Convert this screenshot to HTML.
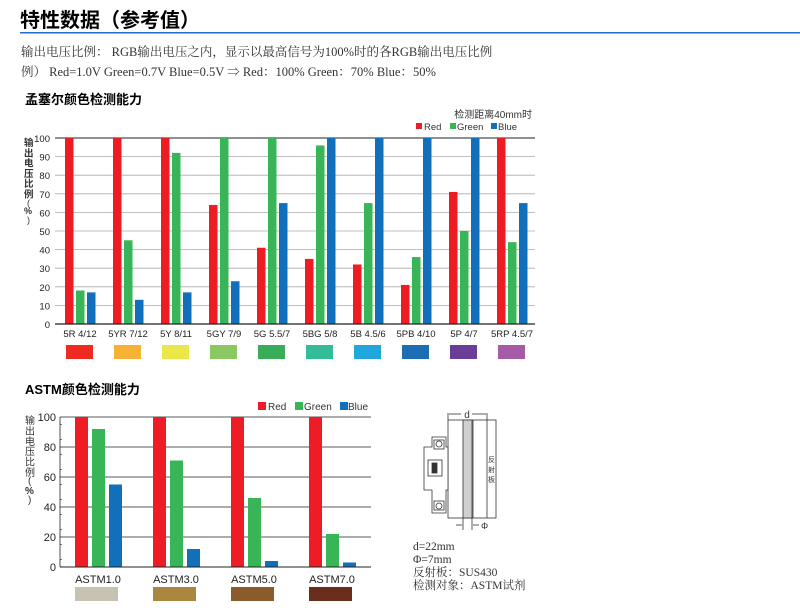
<!DOCTYPE html>
<html><head><meta charset="utf-8"><style>
body{margin:0;background:#fff;width:800px;height:614px;overflow:hidden}
svg{display:block}
</style></head><body>
<svg width="800" height="614" xmlns="http://www.w3.org/2000/svg" font-family="Liberation Sans, Noto Sans CJK SC, sans-serif">
<text x="20" y="27" font-size="20" font-weight="bold" font-family="Liberation Sans, Noto Sans CJK SC, sans-serif">特性数据（参考值）</text>
<rect x="20" y="32" width="780" height="1.5" fill="#1f6fc8"/>
<text x="21" y="56" font-size="12.5" fill="#333" font-family="Liberation Serif, Noto Serif CJK SC, serif">输出电压比例： RGB输出电压之内，显示以最高信号为100%时的各RGB输出电压比例</text>
<text x="21" y="76" font-size="12.5" fill="#333" font-family="Liberation Serif, Noto Serif CJK SC, serif">例） Red=1.0V Green=0.7V Blue=0.5V ⇒ Red：100% Green：70% Blue：50%</text>
<text x="25" y="104" font-size="13" font-weight="bold">孟塞尔颜色检测能力</text>
<text x="532" y="118" font-size="10" text-anchor="end" fill="#333">检测距离40mm时</text>
<rect x="416" y="123" width="6" height="6" fill="#ee1c25"/><text x="424" y="130" font-size="9.5" fill="#333">Red</text>
<rect x="450" y="123" width="6" height="6" fill="#37b557"/><text x="457" y="130" font-size="9.5" fill="#333">Green</text>
<rect x="491" y="123" width="6" height="6" fill="#1270bb"/><text x="498" y="130" font-size="9.5" fill="#333">Blue</text>
<g id="top"></g>
<text x="25" y="394" font-size="13" font-weight="bold">ASTM颜色检测能力</text>
<rect x="258" y="402" width="8" height="8" fill="#ee1c25"/><text x="268" y="410" font-size="10" fill="#333">Red</text>
<rect x="295" y="402" width="8" height="8" fill="#37b557"/><text x="304" y="410" font-size="10" fill="#333">Green</text>
<rect x="340" y="402" width="8" height="8" fill="#1270bb"/><text x="348" y="410" font-size="10" fill="#333">Blue</text>
<g id="bot"></g>
<g stroke="#333" stroke-width="0.8" fill="none">
<rect x="448" y="420" width="48" height="98"/>
<rect x="463" y="420" width="9" height="98" fill="#d0d0d0"/>
<line x1="473" y1="420" x2="473" y2="518"/>
<line x1="487" y1="420" x2="487" y2="518"/>
<line x1="448" y1="413" x2="448" y2="420"/><line x1="487" y1="413" x2="487" y2="420"/>
<line x1="449" y1="414" x2="461" y2="414"/><line x1="472" y1="414" x2="486" y2="414"/>
<line x1="463" y1="518" x2="463" y2="530"/><line x1="472" y1="518" x2="472" y2="530"/>
<line x1="456" y1="525" x2="462" y2="525"/><line x1="473" y1="525" x2="479" y2="525"/>
<path d="M432 437 H446 V447 H448 V490 H446 V513 H432 V490 H424 V447 H432 Z" fill="#fff"/>
<rect x="434" y="440" width="10" height="9"/><circle cx="439" cy="444" r="3"/>
<rect x="434" y="501" width="10" height="9"/><circle cx="439" cy="506" r="3"/>
<rect x="428" y="460" width="14" height="16"/><rect x="432" y="463" width="5" height="10" fill="#333"/>
</g>
<text x="467" y="418" font-size="10" text-anchor="middle" fill="#333">d</text>
<text x="481" y="529" font-size="9" fill="#333">Φ</text>
<text x="488" y="462" font-size="7" fill="#333">反</text><text x="488" y="472" font-size="7" fill="#333">射</text><text x="488" y="482" font-size="7" fill="#333">板</text>
<g font-size="11.5" fill="#333" font-family="Liberation Serif, Noto Serif CJK SC, serif">
<text x="413" y="550">d=22mm</text><text x="413" y="563">Φ=7mm</text>
<text x="413" y="576">反射板：SUS430</text><text x="413" y="589">检测对象：ASTM试剂</text>
</g>
</svg>
<script>
const NS="http://www.w3.org/2000/svg";
function el(p,t,a,txt){const e=document.createElementNS(NS,t);for(const k in a)e.setAttribute(k,a[k]);if(txt!==undefined)e.textContent=txt;p.appendChild(e);return e;}
const R="#ee1c25",G="#37b557",B="#1270bb";
let g=document.getElementById("top");
const y0=324,h=186;
for(let i=1;i<=10;i++){const y=y0-h*i/10;el(g,"line",{x1:55,x2:535,y1:y,y2:y,stroke:i==10?"#222":"#aaa","stroke-width":i==10?1:0.8});}
for(let i=0;i<=10;i++){el(g,"text",{x:50,y:y0-h*i/10+4,"font-size":9.5,"text-anchor":"end",fill:"#222"},String(i*10));}
"输出电压比例".split("").forEach((c,i)=>el(g,"text",{x:24,y:146+i*10.3,"font-size":9.5,"font-weight":"bold",fill:"#333"},c));
el(g,"text",{x:27,y:206,"font-size":9,fill:"#333"},"(");el(g,"text",{x:24,y:214,"font-size":9,"font-weight":"bold",fill:"#333"},"%");el(g,"text",{x:27,y:223,"font-size":9,fill:"#333"},")");
const tv=[[100,18,17],[100,45,13],[100,92,17],[64,100,23],[41,100,65],[35,96,100],[32,65,100],[21,36,100],[71,50,100],[100,44,65]];
const tl=["5R 4/12","5YR 7/12","5Y 8/11","5GY 7/9","5G 5.5/7","5BG 5/8","5B 4.5/6","5PB 4/10","5P 4/7","5RP 4.5/7"];
const sw=["#ee2a24","#f6b233","#ebe64a","#8ac861","#37ad59","#33bc9a","#21a7dc","#1d6db5","#6a3d98","#a65aa8"];
tv.forEach((v,i)=>{const x=65+48*i;[R,G,B].forEach((c,j)=>{const hh=h*v[j]/100;el(g,"rect",{x:x+j*11,y:y0-hh,width:8.5,height:hh,fill:c});});
el(g,"text",{x:x+15,y:337,"font-size":9.5,"text-anchor":"middle",fill:"#222"},tl[i]);
el(g,"rect",{x:x+1,y:345,width:27,height:14,fill:sw[i]});});
el(g,"line",{x1:55,x2:535,y1:y0,y2:y0,stroke:"#222","stroke-width":1.2});
g=document.getElementById("bot");
const b0=567,bh=150;
for(let i=1;i<=5;i++){const y=b0-bh*i/5;el(g,"line",{x1:60,x2:371,y1:y,y2:y,stroke:"#222","stroke-width":0.8});}
for(let i=0;i<=5;i++){el(g,"text",{x:56,y:b0-bh*i/5+4,"font-size":11,"text-anchor":"end",fill:"#222"},String(i*20));}
for(let i=0;i<10;i++){el(g,"line",{x1:60,x2:62,y1:b0-15*i-7.5,y2:b0-15*i-7.5,stroke:"#222","stroke-width":0.6});}
el(g,"line",{x1:60,x2:60,y1:417,y2:b0,stroke:"#222","stroke-width":0.8});
"输出电压比例".split("").forEach((c,i)=>el(g,"text",{x:25,y:424+i*10.4,"font-size":10,fill:"#333"},c));
el(g,"text",{x:28,y:484,"font-size":10,fill:"#333"},"(");el(g,"text",{x:25,y:494,"font-size":10,"font-weight":"bold",fill:"#333"},"%");el(g,"text",{x:28,y:503,"font-size":10,fill:"#333"},")");
const bv=[[100,92,55],[100,71,12],[100,46,4],[100,22,3]];
const bs=["#c7c3b3","#a9873f","#8a5c2c","#6b2e1c"];
bv.forEach((v,i)=>{const x=75+78*i;[R,G,B].forEach((c,j)=>{const hh=bh*v[j]/100;el(g,"rect",{x:x+j*17,y:b0-hh,width:13,height:hh,fill:c});});
el(g,"text",{x:x+23,y:583,"font-size":11,"text-anchor":"middle",fill:"#222"},"ASTM"+(1+2*i)+".0");
el(g,"rect",{x:x,y:587,width:43,height:14,fill:bs[i]});});
el(g,"line",{x1:60,x2:371,y1:b0,y2:b0,stroke:"#222","stroke-width":1});
</script>
</body></html>
